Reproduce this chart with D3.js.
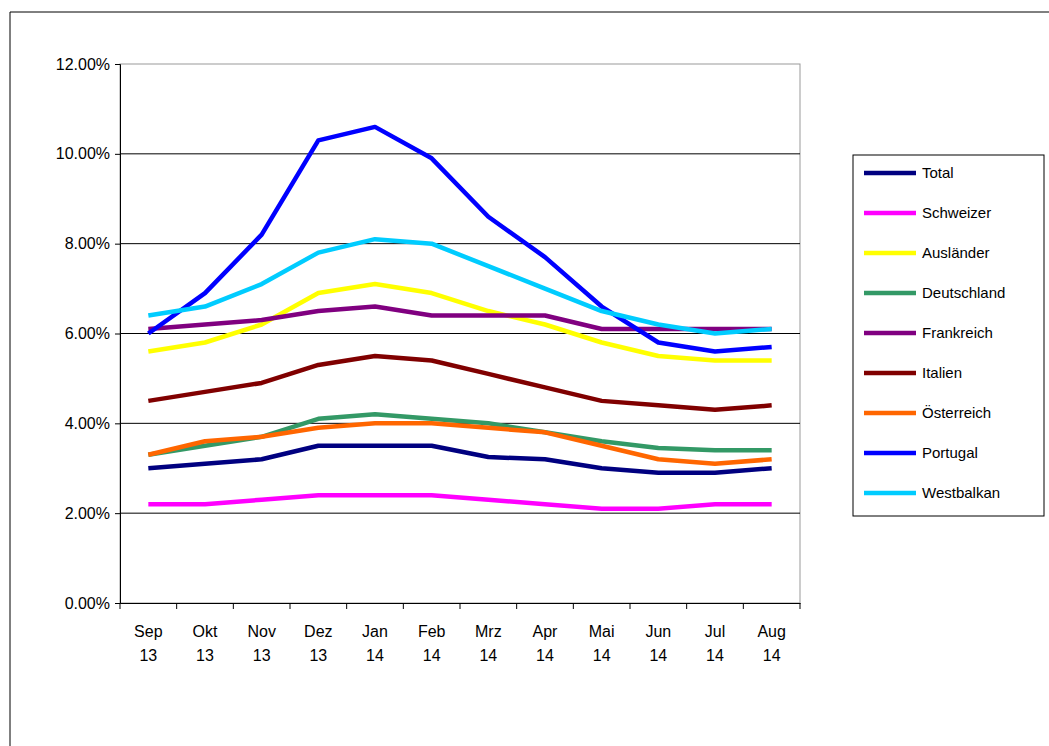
<!DOCTYPE html>
<html><head><meta charset="utf-8">
<script src="https://cdn.jsdelivr.net/npm/d3@7"></script>
<style>body{margin:0;background:#fff}text{font-family:Arial,"Liberation Sans",sans-serif}</style>
</head><body>
<script>
var months = ['Sep','Okt','Nov','Dez','Jan','Feb','Mrz','Apr','Mai','Jun','Jul','Aug'];
var years = ['13','13','13','13','14','14','14','14','14','14','14','14'];
var seriesNames = ['Total','Schweizer','Ausländer','Deutschland','Frankreich','Italien','Österreich','Portugal','Westbalkan'];
var seriesColors = ['#000080','#ff00ff','#ffff00','#339966','#800080','#800000','#ff6600','#0000ff','#00ccff'];
var total = [3.0,3.1,3.2,3.5,3.5,3.5,3.25,3.2,3.0,2.9,2.9,3.0];
var schweizer = [2.2,2.2,2.3,2.4,2.4,2.4,2.3,2.2,2.1,2.1,2.2,2.2];
var auslaender = [5.6,5.8,6.2,6.9,7.1,6.9,6.5,6.2,5.8,5.5,5.4,5.4];
var deutschland = [3.3,3.5,3.7,4.1,4.2,4.1,4.0,3.8,3.6,3.45,3.4,3.4];
var frankreich = [6.1,6.2,6.3,6.5,6.6,6.4,6.4,6.4,6.1,6.1,6.1,6.1];
var italien = [4.5,4.7,4.9,5.3,5.5,5.4,5.1,4.8,4.5,4.4,4.3,4.4];
var oesterreich = [3.3,3.6,3.7,3.9,4.0,4.0,3.9,3.8,3.5,3.2,3.1,3.2];
var portugal = [6.0,6.9,8.2,10.3,10.6,9.9,8.6,7.7,6.6,5.8,5.6,5.7];
var westbalkan = [6.4,6.6,7.1,7.8,8.1,8.0,7.5,7.0,6.5,6.2,6.0,6.1];
var yTicks = [0,2,4,6,8,10,12];
var allSeries = [total,schweizer,auslaender,deutschland,frankreich,italien,oesterreich,portugal,westbalkan];

var svg = d3.select('body').append('svg').attr('width',1049).attr('height',746);
// sheet frame
svg.append('line').attr('x1',10).attr('x2',1049).attr('y1',12).attr('y2',12).attr('stroke','#000');
svg.append('line').attr('x1',10).attr('x2',10).attr('y1',12).attr('y2',746).attr('stroke','#000');

var L=120,R=800,T=64,B=603;
var x = d3.scaleBand().domain(months.map(function(d,i){return i;})).range([L,R]);
var y = d3.scaleLinear().domain([0,12]).range([B,T]);

svg.append('rect').attr('x',L).attr('y',T).attr('width',R-L).attr('height',B-T).attr('fill','none').attr('stroke','#999');
svg.selectAll('.grid').data(yTicks.filter(function(d){return d>0&&d<12;})).enter().append('line')
  .attr('x1',L).attr('x2',R).attr('y1',function(d){return y(d);}).attr('y2',function(d){return y(d);}).attr('stroke','#000');

var ya = svg.append('g').attr('transform','translate('+L+',0)')
  .call(d3.axisLeft(y).tickValues(yTicks).tickSize(5).tickFormat(function(d){return d.toFixed(2)+'%';}));
ya.selectAll('text').attr('font-size',16).attr('fill','#000').attr('dx',-2);
var xa = svg.append('g').attr('transform','translate(0,'+B+')')
  .call(d3.axisBottom(x).tickSize(0).tickFormat(''));
xa.selectAll('.tick').remove();
xa.select('.domain').attr('stroke','#000');
var edges = d3.range(13).map(function(i){return L+i*x.step();});
svg.selectAll('.xt').data(edges).enter().append('line').attr('x1',function(d){return d;}).attr('x2',function(d){return d;})
  .attr('y1',B).attr('y2',B+6).attr('stroke','#000');
ya.select('.domain').attr('stroke','#000');

var lab = svg.selectAll('.xl').data(months).enter().append('text').attr('text-anchor','middle').attr('font-size',16)
  .attr('x',function(d,i){return x(i)+x.bandwidth()/2;});
lab.append('tspan').attr('y',637).text(function(d){return d;});
lab.append('tspan').attr('y',661).attr('x',function(d,i){return x(i)+x.bandwidth()/2;}).text(function(d,i){return years[i];});

var line = d3.line().x(function(d,i){return x(i)+x.bandwidth()/2;}).y(function(d){return y(d);});
allSeries.forEach(function(s,k){
  svg.append('path').datum(s).attr('d',line).attr('fill','none').attr('stroke',seriesColors[k])
    .attr('stroke-width',4.5).attr('stroke-linejoin','round');
});

var lg = svg.append('g');
lg.append('rect').attr('x',853).attr('y',155).attr('width',191).attr('height',361).attr('fill','#fff').attr('stroke','#000');
seriesNames.forEach(function(n,k){
  var yy = 173+k*40;
  lg.append('line').attr('x1',864).attr('x2',916).attr('y1',yy).attr('y2',yy).attr('stroke',seriesColors[k]).attr('stroke-width',4.5);
  lg.append('text').attr('x',922).attr('y',yy+5).attr('font-size',15).text(n);
});
</script>
</body></html>
